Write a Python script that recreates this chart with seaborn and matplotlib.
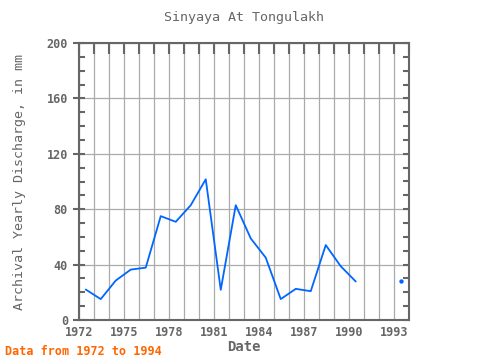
import matplotlib
matplotlib.use("Agg")
import matplotlib.pyplot as plt
import seaborn as sns
import pandas as pd
import numpy as np
from matplotlib.ticker import MultipleLocator

years = [1972, 1973, 1974, 1975, 1976, 1977, 1978, 1979, 1980, 1981,
         1982, 1983, 1984, 1985, 1986, 1987, 1988, 1989, 1990, 1993]
discharge = [22.0, 15.1, 28.5, 36.4, 37.8, 75.0, 70.9, 82.9, 101.6, 21.8,
             82.9, 58.9, 45.0, 15.1, 22.5, 20.8, 54.1, 38.8, 27.8, 27.8]
segment = [0] * 19 + [1]
xtick_labels = ["1972", "1975", "1978", "1981", "1984", "1987", "1990", "1993"]

df = pd.DataFrame({"year": np.array(years) + 0.45, "q": discharge, "seg": segment})

sns.set_style("white")
plt.rcParams["font.family"] = ["DejaVu Sans Mono"]

fig = plt.figure(figsize=(4.8, 3.6), dpi=100)
ax = fig.add_axes([79 / 480, 40 / 360, 330 / 480, 277 / 360])

line_color = "#0066ff"
main = df[df.seg == 0]
single = df[df.seg == 1]
sns.lineplot(data=main, x="year", y="q", ax=ax, color=line_color, linewidth=1.3)
sns.scatterplot(data=single, x="year", y="q", ax=ax, color=line_color, s=10,
                edgecolor=line_color, linewidth=0)

ax.set_xlim(1972, 1994)
ax.set_ylim(0, 200)
ax.xaxis.set_minor_locator(MultipleLocator(1))
ax.yaxis.set_major_locator(MultipleLocator(40))
ax.yaxis.set_minor_locator(MultipleLocator(10))
ax.set_xticks([int(t) for t in xtick_labels])
ax.set_xticklabels(xtick_labels)

ax.grid(True, which="major", axis="y", color="#aaaaaa", linewidth=0.9)
ax.grid(True, which="both", axis="x", color="#aaaaaa", linewidth=0.9)
ax.set_axisbelow(True)

gray = "#666666"
for sp in ax.spines.values():
    sp.set_color(gray)
    sp.set_linewidth(1.5)

ax.tick_params(axis="x", which="major", direction="in", length=8, width=1.5,
               color=gray, labelcolor=gray, labelsize=8.5, top=True, pad=4)
ax.tick_params(axis="x", which="minor", direction="in", length=8, width=1.5,
               color=gray, top=True)
ax.tick_params(axis="y", which="major", direction="inout", length=8, width=1.5,
               color=gray, labelcolor=gray, labelsize=8.5, right=False, pad=4)
ax.tick_params(axis="y", which="minor", direction="in", length=4, width=1.5,
               color=gray, right=False)
for lab in ax.get_xticklabels() + ax.get_yticklabels():
    lab.set_fontweight("bold")

ax2 = ax.twinx()
ax2.set_ylim(0, 200)
ax2.yaxis.set_major_locator(MultipleLocator(40))
ax2.yaxis.set_minor_locator(MultipleLocator(10))
ax2.tick_params(axis="y", which="major", direction="in", length=4, width=1.5,
                color=gray, labelright=False)
ax2.tick_params(axis="y", which="minor", direction="in", length=4, width=1.5,
                color=gray)
for sp in ax2.spines.values():
    sp.set_visible(False)

ax.set_xlabel("Date", color=gray, fontsize=10, fontweight="bold", labelpad=1)
ax.set_ylabel("Archival Yearly Discharge, in mm", color=gray, fontsize=9.6,
              labelpad=15)
ax.set_title("Sinyaya At Tongulakh", color=gray, fontsize=9.6, pad=16)

fig.text(5 / 480, 2 / 360, "Data from 1972 to 1994", color="#ff6600",
         fontsize=8.5, fontweight="bold", va="bottom", ha="left")

fig.savefig("out.png", dpi=100)
